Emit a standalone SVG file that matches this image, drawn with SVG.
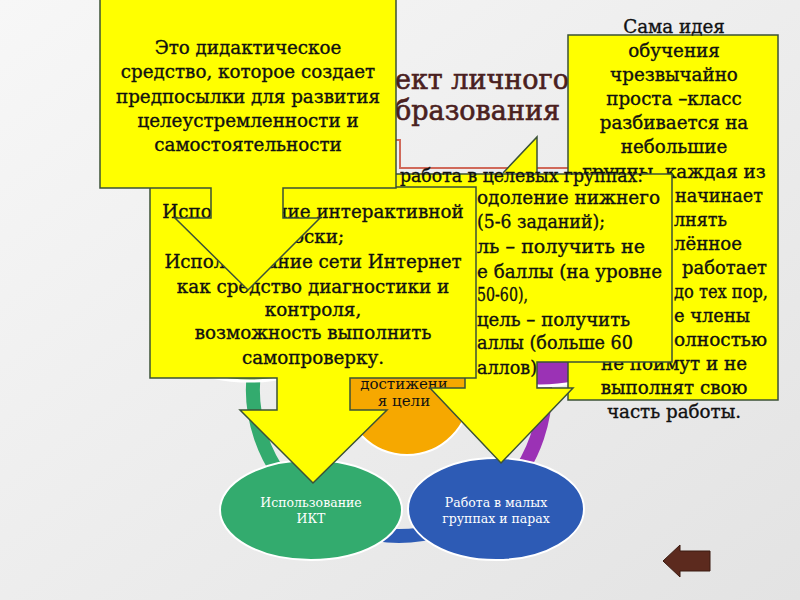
<svg xmlns="http://www.w3.org/2000/svg" width="800" height="600" viewBox="0 0 800 600">
<defs>
<linearGradient id="bg" x1="0" y1="0" x2="1" y2="1">
<stop offset="0" stop-color="#f7f7f7"/>
<stop offset="1" stop-color="#e3e3e3"/>
</linearGradient>
<style>
.t{font-family:"DejaVu Serif","Liberation Serif",serif;fill:#111;}
.c{text-anchor:middle;}
.box{fill:#ffff00;stroke:#3b5236;stroke-width:1.5;}
.w{fill:#fff;font-size:12.5px;}
.m{font-size:18.3px;stroke:#111;stroke-width:0.35px;}
.ttl{font-size:27px;fill:#4a2020;stroke:#4a2020;stroke-width:0.6px;}
.ring{fill:none;stroke-width:14;}
</style>
</defs>
<rect width="800" height="600" fill="url(#bg)"/>

<g id="title">
<text class="t ttl" x="395" y="89">ект личного в</text>
<text class="t ttl" x="395" y="120">бразования</text>
<polyline points="390,140 400,140 400,168 590,168" fill="none" stroke="#d0695a" stroke-width="2"/>
</g>

<g id="connectors">
<path class="ring" stroke="#9b32b5" d="M399,244 A146,146 0 0 1 482.7,509.6"/>
<path class="ring" stroke="#2d5bb5" d="M482.7,509.6 A146,146 0 0 1 315.3,509.6"/>
<path class="ring" stroke="#33ab6e" d="M315.3,509.6 A146,146 0 0 1 399,244"/>
</g>

<g id="node-top-left">
<ellipse cx="250" cy="330" rx="95" ry="51" fill="#76a23a" stroke="#fff" stroke-width="3"/>
</g>
<g id="node-top-right">
<ellipse cx="540" cy="333" rx="90" ry="53" fill="#9b32b5" stroke="#fff" stroke-width="3"/>
</g>
<g id="node-center">
<circle cx="407" cy="392" r="63" fill="#f6a800" stroke="#fff" stroke-width="2"/>
<text class="t c" x="404" y="389" font-size="15">достижени</text>
<text class="t c" x="404" y="406" font-size="15">я цели</text>
</g>
<g id="node-ikt">
<ellipse cx="311" cy="510" rx="91" ry="50" fill="#33ab6e" stroke="#fff" stroke-width="2"/>
<text class="t c w" x="311" y="507">Использование</text>
<text class="t c w" x="311" y="523">ИКТ</text>
</g>
<g id="node-groups">
<ellipse cx="496" cy="509" rx="88" ry="51" fill="#2d5bb5" stroke="#fff" stroke-width="2"/>
<text class="t c w" x="496" y="507">Работа в малых</text>
<text class="t c w" x="496" y="523">группах и парах</text>
</g>

<g id="box-idea">
<rect class="box" x="568" y="35" width="210" height="365"/>
<g class="t m c">
<text x="674" y="33">Сама идея</text>
<text x="674" y="57">обучения</text>
<text x="674" y="81">чрезвычайно</text>
<text x="674" y="105">проста –класс</text>
<text x="674" y="129">разбивается на</text>
<text x="674" y="153">небольшие</text>
<text x="674" y="178">группы, каждая из</text>
<text x="674" y="370">не поймут и не</text>
<text x="674" y="394">выполнят свою</text>
<text x="674" y="418">часть работы.</text>
</g>
<g class="t m">
<text x="675" y="202" textLength="88" lengthAdjust="spacingAndGlyphs">начинает</text>
<text x="674" y="226" textLength="53" lengthAdjust="spacingAndGlyphs">лнять</text>
<text x="674" y="250" textLength="68" lengthAdjust="spacingAndGlyphs">лённое</text>
<text x="682" y="274" textLength="85" lengthAdjust="spacingAndGlyphs">работает</text>
<text x="674" y="298" textLength="94" lengthAdjust="spacingAndGlyphs">до тех пор,</text>
<text x="674" y="322" textLength="76" lengthAdjust="spacingAndGlyphs">е члены</text>
<text x="674" y="346" textLength="93" lengthAdjust="spacingAndGlyphs">олностью</text>
</g>
</g>

<g id="small-triangle">
<polygon points="503,173 537,137 537,173" fill="#ffff00"/>
<polyline points="503,173 537,137 537,173" fill="none" stroke="#3b5236" stroke-width="1.5"/>
</g>

<g id="callout-target-groups">
<path class="box" d="M332,174 H672 V362 H537 V388 H573 L501,463 L430,388 H465 V362 H332 Z"/>
<g class="t m">
<text x="400" y="182" textLength="243" lengthAdjust="spacingAndGlyphs">работа в целевых группах:</text>
<text x="477" y="204" textLength="183" lengthAdjust="spacingAndGlyphs">одоление нижнего</text>
<text x="477" y="228" textLength="128" lengthAdjust="spacingAndGlyphs">(5-6 заданий);</text>
<text x="477" y="253" textLength="168" lengthAdjust="spacingAndGlyphs">ль – получить не</text>
<text x="477" y="278" textLength="185" lengthAdjust="spacingAndGlyphs">е баллы (на уровне</text>
<text x="477" y="301" textLength="51" lengthAdjust="spacingAndGlyphs">50-60),</text>
<text x="477" y="326" textLength="153" lengthAdjust="spacingAndGlyphs">цель – получить</text>
<text x="477" y="349" textLength="156" lengthAdjust="spacingAndGlyphs">аллы (больше 60</text>
<text x="477" y="374" textLength="60" lengthAdjust="spacingAndGlyphs">аллов)</text>
</g>
</g>

<g id="callout-ict">
<path class="box" d="M150,187 H476 V378 H350 V410 H387 L313,483 L240,410 H277 V378 H150 Z"/>
<g class="t m c">
<text x="313" y="218">Использование интерактивной</text>
<text x="313" y="243">доски;</text>
<text x="313" y="268">Использование сети Интернет</text>
<text x="313" y="293">как средство диагностики и</text>
<text x="313" y="316">контроля,</text>
<text x="313" y="339">возможность выполнить</text>
<text x="313" y="364">самопроверку.</text>
</g>
</g>

<g id="callout-didactic">
<path class="box" d="M100,-2 H396 V188 H283 V218 H320 L248,290 L175,218 H211 V188 H100 Z"/>
<g class="t m c">
<text x="248" y="54">Это дидактическое</text>
<text x="248" y="78">средство, которое создает</text>
<text x="248" y="103">предпосылки для развития</text>
<text x="248" y="127">целеустремленности и</text>
<text x="248" y="151">самостоятельности</text>
</g>
</g>

<g id="back-button">
<path d="M663,561 L680,545 V551 H710 V571 H680 V577 Z" fill="#5c2a1e" stroke="#3a1a10" stroke-width="1"/>
</g>
</svg>
